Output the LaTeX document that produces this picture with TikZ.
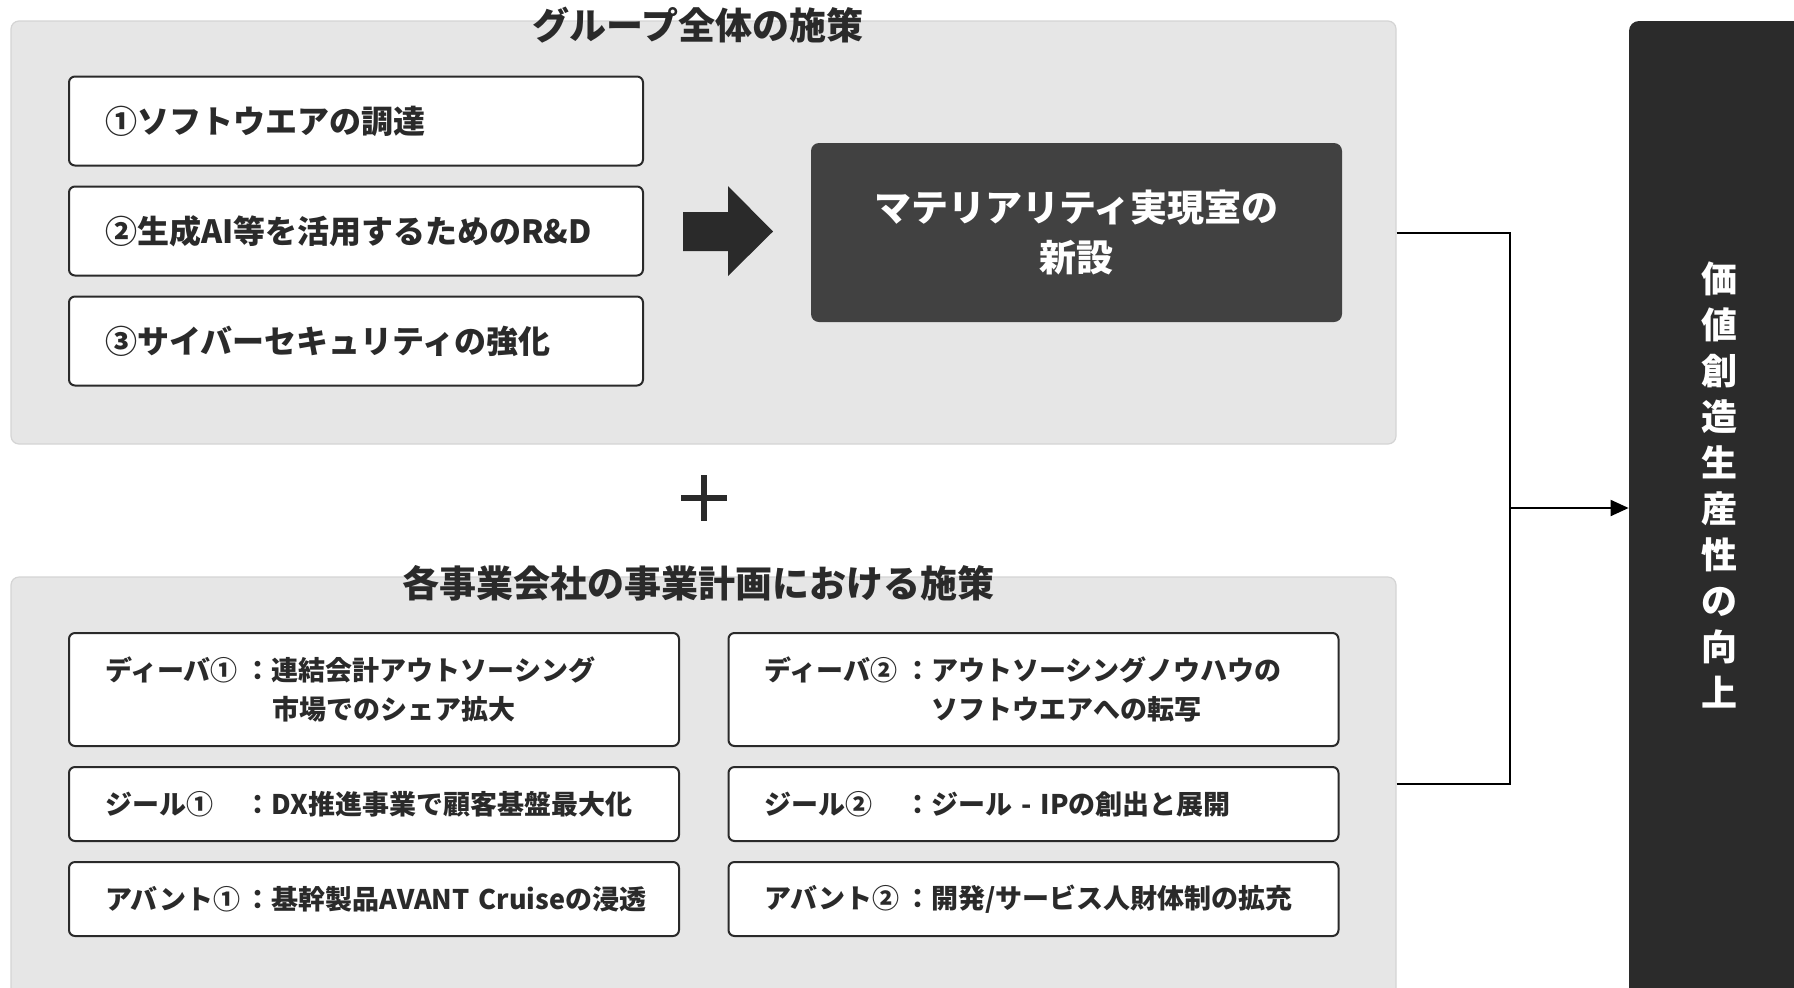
\documentclass[tikz,border=0pt]{standalone}
\usepackage{fontspec}
\setmainfont{Noto Sans CJK JP}
\usetikzlibrary{arrows.meta}
\definecolor{panelfill}{HTML}{E6E6E6}
\definecolor{paneledge}{HTML}{D4D4D4}
\definecolor{ink}{HTML}{2A2A2A}
\definecolor{matfill}{HTML}{414141}
\definecolor{valfill}{HTML}{2B2B2B}
\begin{document}
\begin{tikzpicture}[x=0.5pt,y=-0.5pt,
  panel/.style={draw=paneledge, fill=panelfill, line width=0.6pt, rounded corners=4pt,
    minimum width=692.5pt, inner sep=0pt},
  ptitle/.style={font=\bfseries\fontsize{18.5}{22}\selectfont, text=ink, inner sep=0pt},
  topbox/.style={draw=ink, fill=white, line width=1pt, rounded corners=3pt,
    text width=251pt, inner xsep=18pt, inner ysep=0pt, minimum height=44.5pt, align=left,
    font=\bfseries\fontsize{16}{20}\selectfont, text=ink},
  botbox/.style={draw=ink, fill=white, line width=1pt, rounded corners=3pt,
    text width=269pt, inner xsep=18pt, inner ysep=0pt, align=left,
    font=\bfseries\fontsize{13.5}{19.5}\selectfont, text=ink},
  darkbox/.style={fill=matfill, rounded corners=4pt, text=white, align=center,
    font=\bfseries\fontsize{18.5}{25}\selectfont, inner sep=0pt},
  conn/.style={draw=black, line width=1pt},
]
\useasboundingbox (0,0) rectangle (1794,987);

% panels
\node[panel, minimum height=211.5pt] (top) at (703.5,232.5) {};
\node[panel, minimum height=216.5pt] (bot) at (703.5,793.5) {};
\node[ptitle] (toptitle) at (698,25) {グループ全体の施策};
\node[ptitle] (bottitle) at (698,583) {各事業会社の事業計画における施策};

% top boxes
\node[topbox] (t1) at (356,121) {①ソフトウエアの調達};
\node[topbox] (t2) at (356,231) {②生成AI等を活用するためのR\&D};
\node[topbox] (t3) at (356,341) {③サイバーセキュリティの強化};

% big arrow
\fill[ink] (683,212) -- (728,212) -- (728,186) -- (773,231.5) -- (728,276) -- (728,251) -- (683,251) -- cycle;

% materiality box
\node[darkbox, minimum width=265.5pt, minimum height=89.5pt] (mat) at (1076.5,232.5)
  {マテリアリティ実現室の\\新設};

% plus
\draw[ink, line width=3pt] (681,498) -- (727,498);
\draw[ink, line width=3pt] (704,475) -- (704,521);

% bottom boxes
\node[botbox, minimum height=56.5pt] (b1) at (374,689.5)
  {\makebox[70pt][l]{ディーバ①}：連結会計アウトソーシング\\\hspace*{83.5pt}市場でのシェア拡大};
\node[botbox, minimum height=37pt] (b2) at (374,804)
  {\makebox[70pt][l]{ジール①}：DX推進事業で顧客基盤最大化};
\node[botbox, minimum height=37pt] (b3) at (374,899)
  {\mbox{\makebox[70pt][l]{アバント①}：基幹製品AVANT~Cruiseの浸透}};
\node[botbox, minimum height=56.5pt] (b4) at (1033.5,689.5)
  {\makebox[70pt][l]{ディーバ②}：アウトソーシングノウハウの\\\hspace*{83.5pt}ソフトウエアへの転写};
\node[botbox, minimum height=37pt] (b5) at (1033.5,804)
  {\makebox[70pt][l]{ジール②}：ジール - IPの創出と展開};
\node[botbox, minimum height=37pt] (b6) at (1033.5,899)
  {\makebox[70pt][l]{アバント②}：開発/サービス人財体制の拡充};

% value box
\node[fill=valfill, rounded corners=5pt, minimum width=95.5pt, minimum height=499.5pt, inner sep=0pt]
  (val) at (1724.5,520.5) {};
\node[text=white, align=center, inner sep=0pt, font=\bfseries\fontsize{18}{23}\selectfont]
  (valtext) at (1719,484.5) {価\\値\\創\\造\\生\\産\\性\\の\\向\\上};

% connectors
\coordinate (jn) at (1510,508);
\coordinate (bj) at (1510,784);
\draw[conn] (top.east |- mat.east) -| (jn);
\draw[conn] (bot.east |- bj) -- (bj) -- (jn);
\draw[conn, -{Triangle[length=9pt,width=8pt]}] (jn) -- (val.west |- jn);
\end{tikzpicture}
\end{document}
